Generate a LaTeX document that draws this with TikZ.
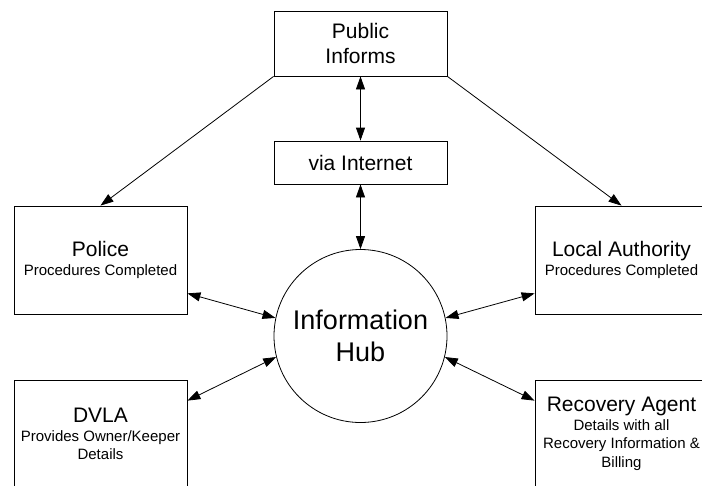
\documentclass[tikz,border=0pt]{standalone}
\usepackage{fontspec}
\setmainfont{Liberation Sans}
\usetikzlibrary{arrows.meta}
\newcommand{\headtxt}{\fontsize{21}{25}\selectfont}
\newcommand{\subtxt}{\fontsize{15}{18.5}\selectfont}
\tikzset{
  box/.style={draw, line width=0.8pt, minimum width=173pt, minimum height=108pt, inner sep=0pt, align=center, font=\subtxt},
  link/.style={line width=0.8pt, -{Triangle[length=13pt, width=9pt]}},
  twoway/.style={line width=0.8pt, {Triangle[length=13pt, width=9pt]}-{Triangle[length=13pt, width=9pt]}},
}
\begin{document}
\begin{tikzpicture}[x=1pt, y=-1pt]
    \clip (0, 0) rectangle (702, 485);
    \node [box, minimum height=65pt, font=\headtxt] (pub) at (360.5, 43.5) {Public\\Informs};
    \node [box, minimum height=43pt, font=\headtxt] (via) at (360.5, 162.5) {via Internet};
    \node [draw, circle, line width=0.8pt, minimum size=173pt, inner sep=0pt, align=center,
           font=\fontsize{27}{31.7}\selectfont] (hub) at (360.5, 336) {Information\\Hub};
    \node [box] (police) at (100.5, 260) {{\headtxt Police}\\Procedures Completed};
    \node [box] (la) at (621.5, 260) {{\headtxt Local Authority}\\Procedures Completed};
    \node [box] (dvla) at (100.5, 434) {{\headtxt DVLA}\\Provides Owner/Keeper\\Details};
    \node [box] (rec) at (621.5, 434) {{\headtxt Recovery Agent}\\Details with all\\Recovery Information \&\\Billing};
    \draw [link] (pub.south west) -- (police.north);
    \draw [link] (pub.south east) -- (la.north);
    \draw [twoway] (pub.south) -- (via.north);
    \draw [twoway] (via.south) -- (hub.north);
    \draw [twoway] (police.-21) -- (hub.168);
    \draw [twoway] (la.201) -- (hub.12);
    \draw [twoway] (dvla.21) -- (hub.194);
    \draw [twoway] (rec.159) -- (hub.-14);
\end{tikzpicture}
\end{document}
